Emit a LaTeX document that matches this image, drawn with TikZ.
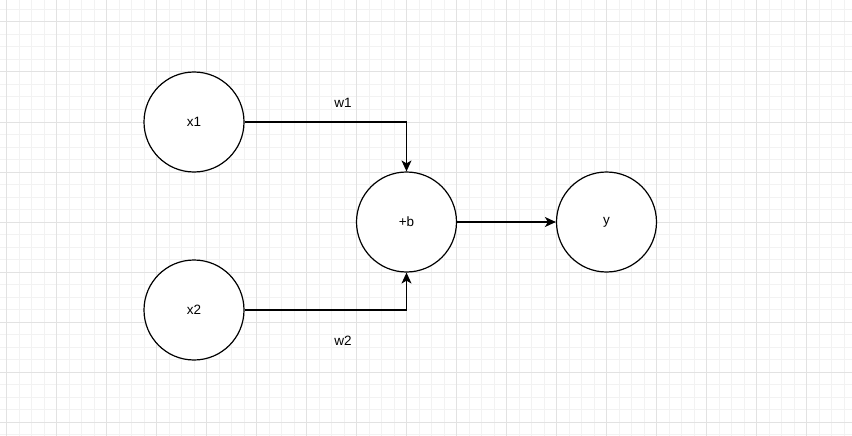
\documentclass[tikz,border=0pt]{standalone}
\usepackage{fontspec}
\setmainfont{Liberation Sans}
\usetikzlibrary{arrows.meta, positioning}
\definecolor{gridminor}{HTML}{F2F2F2}
\definecolor{gridmajor}{HTML}{E2E2E2}

\begin{document}
\begin{tikzpicture}[x=1pt, y=-1pt,
        >={Stealth[length=11pt, width=10pt, inset=3pt]},
        neuron/.style={draw, circle, line width=1.2pt, minimum size=100pt, inner sep=0pt,
                       fill=white, font=\fontsize{13.5}{15}\selectfont},
        link/.style={->, line width=1.2pt},
        lbl/.style={font=\fontsize{13.5}{15}\selectfont},
        minorline/.style={draw=gridminor, line width=1pt},
        majorline/.style={draw=gridmajor, line width=1pt},
    ]
    \useasboundingbox (0,0) rectangle (852,436);
    \fill[white] (0,0) rectangle (852,436);

    % ---- Background grid ----
    \foreach \gx in {0,...,68} {
        \draw[minorline] (6.5+12.5*\gx-12.5,0) -- ++(0,436);
    }
    \foreach \gy in {0,...,35} {
        \draw[minorline] (0,22+12.5*\gy-25) -- ++(852,0);
    }
    \foreach \gx in {0,...,17} {
        \draw[majorline] (6.5+50*\gx,0) -- ++(0,436);
    }
    \foreach \gy in {0,...,9} {
        \draw[majorline] (0,22+50*\gy-50) -- ++(852,0);
    }

    % ---- Neurons ----
    \node[neuron] (x1) at (194, 122) {x1};
    \node[neuron] (x2) at (194, 310) {x2};
    \node[neuron] (bias) at (406.5, 222) {+b};
    \node[neuron] (y) at (606.5, 222) {y};

    % ---- Weights ----
    \node[lbl] (w1) at (343, 103) {w1};
    \node[lbl] (w2) at (343, 341) {w2};

    % ---- Connections ----
    \draw[link] (x1.east) -| (bias.north);
    \draw[link] (x2.east) -| (bias.south);
    \draw[link] (bias.east) -- (y.west);

\end{tikzpicture}
\end{document}
